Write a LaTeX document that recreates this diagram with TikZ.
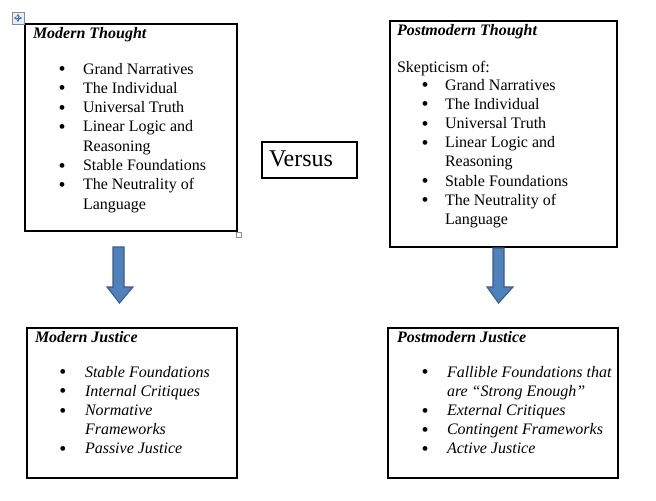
\documentclass[tikz,border=0pt]{standalone}
\usepackage{fontspec}
\setmainfont{Liberation Serif}
\usetikzlibrary{arrows.meta}
\definecolor{arrowfill}{HTML}{4F81BD}
\definecolor{arrowline}{HTML}{385D8A}
\definecolor{handlegray}{HTML}{8C8C8C}
\definecolor{iconblue}{HTML}{3C6EB4}
\definecolor{iconfill}{HTML}{E8EEF6}
\tikzset{
  box/.style={draw=black, line width=0.8pt},
  txt/.style={anchor=base west, inner sep=0pt, outer sep=0pt, font=\fontsize{12}{14}\selectfont},
  ttl/.style={txt, font=\fontsize{12}{14}\selectfont\bfseries\itshape},
  itx/.style={txt, font=\fontsize{12}{14}\selectfont\itshape},
  bul/.style={anchor=base, inner sep=0pt, outer sep=0pt, yshift=-1.2pt, font=\fontsize{15}{15}\selectfont},
  blockarrow/.style={fill=arrowfill, draw=arrowline, line width=0.8pt, line join=miter},
}
\begin{document}
\begin{tikzpicture}[x=0.75pt, y=-0.75pt]
\useasboundingbox (0,0) rectangle (656,500);
\fill[white] (0,0) rectangle (656,500);

% ---- boxes ----
\draw[box] (25,24) rectangle (237,231);
\draw[box] (390,21) rectangle (617,247);
\draw[box] (262,142) rectangle (357,178);
\draw[box] (27,328) rectangle (237,478);
\draw[box] (388,328) rectangle (618,478);

% move icon and resize handle
\draw[handlegray, fill=iconfill, line width=0.5pt] (12,12) rectangle (24,24);
\draw[iconblue, line width=0.7pt, {Stealth[length=2pt,width=2.5pt]}-{Stealth[length=2pt,width=2.5pt]}] (14,18) -- (22,18);
\draw[iconblue, line width=0.7pt, {Stealth[length=2pt,width=2.5pt]}-{Stealth[length=2pt,width=2.5pt]}] (18,14) -- (18,22);
\draw[handlegray, line width=0.6pt] (236,232) rectangle (241,237);

% ---- Modern Thought ----
\node[ttl] (mt) at (33,38) {Modern Thought};
\node[bul] (mtb1) at (62,74) {•};
\node[txt] (mt1) at (83,74) {Grand Narratives};
\node[bul] (mtb2) at (62,93.3) {•};
\node[txt] (mt2) at (83,93.3) {The Individual};
\node[bul] (mtb3) at (62,112.6) {•};
\node[txt] (mt3) at (83,112.6) {Universal Truth};
\node[bul] (mtb4) at (62,131.9) {•};
\node[txt] (mt4) at (83,131.9) {Linear Logic and};
\node[txt] (mt4b) at (83,151.2) {Reasoning};
\node[bul] (mtb5) at (62,170.5) {•};
\node[txt] (mt5) at (83,170.5) {Stable Foundations};
\node[bul] (mtb6) at (62,189.8) {•};
\node[txt] (mt6) at (83,189.8) {The Neutrality of};
\node[txt] (mt6b) at (83,209.1) {Language};

% ---- Postmodern Thought ----
\node[ttl] (pt) at (397,35) {Postmodern Thought};
\node[txt] (pt0) at (397,72) {Skepticism of:};
\node[bul] (ptb1) at (425,90) {•};
\node[txt] (pt1) at (445,90) {Grand Narratives};
\node[bul] (ptb2) at (425,109.2) {•};
\node[txt] (pt2) at (445,109.2) {The Individual};
\node[bul] (ptb3) at (425,128.4) {•};
\node[txt] (pt3) at (445,128.4) {Universal Truth};
\node[bul] (ptb4) at (425,147.6) {•};
\node[txt] (pt4) at (445,147.6) {Linear Logic and};
\node[txt] (pt4b) at (445,166.8) {Reasoning};
\node[bul] (ptb5) at (425,186) {•};
\node[txt] (pt5) at (445,186) {Stable Foundations};
\node[bul] (ptb6) at (425,205.2) {•};
\node[txt] (pt6) at (445,205.2) {The Neutrality of};
\node[txt] (pt6b) at (445,224.4) {Language};

% ---- Versus ----
\node[txt, font=\fontsize{18}{20}\selectfont] (vs) at (269,166) {Versus};

% ---- Modern Justice ----
\node[ttl] (mj) at (35,342) {Modern Justice};
\node[bul] (mjb1) at (63,377) {•};
\node[itx] (mj1) at (85,377) {Stable Foundations};
\node[bul] (mjb2) at (63,396.2) {•};
\node[itx] (mj2) at (85,396.2) {Internal Critiques};
\node[bul] (mjb3) at (63,415.4) {•};
\node[itx] (mj3) at (85,415.4) {Normative};
\node[itx] (mj3b) at (85,434.6) {Frameworks};
\node[bul] (mjb4) at (63,453.8) {•};
\node[itx] (mj4) at (85,453.8) {Passive Justice};

% ---- Postmodern Justice ----
\node[ttl] (pj) at (397,342) {Postmodern Justice};
\node[bul] (pjb1) at (425,377) {•};
\node[itx] (pj1) at (447,377) {Fallible Foundations that};
\node[itx] (pj1b) at (447,396.2) {are “Strong Enough”};
\node[bul] (pjb2) at (425,415.4) {•};
\node[itx] (pj2) at (447,415.4) {External Critiques};
\node[bul] (pjb3) at (425,434.6) {•};
\node[itx] (pj3) at (447,434.6) {Contingent Frameworks};
\node[bul] (pjb4) at (425,453.8) {•};
\node[itx] (pj4) at (447,453.8) {Active Justice};

% ---- block arrows ----
\draw[blockarrow] (113,247) -- (124,247) -- (124,287) -- (133,287) -- (119.5,303) -- (107,287) -- (113,287) -- cycle;
\draw[blockarrow] (493,248) -- (504,248) -- (504,287) -- (513,287) -- (498.5,303) -- (487,287) -- (493,287) -- cycle;
\end{tikzpicture}
\end{document}
